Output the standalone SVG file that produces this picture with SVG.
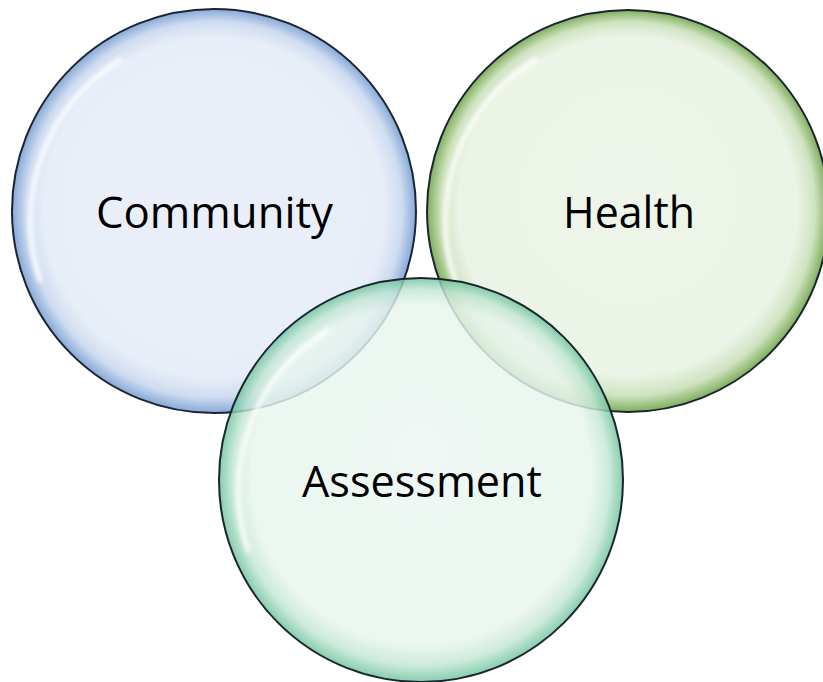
<svg xmlns="http://www.w3.org/2000/svg" width="823" height="682" viewBox="0 0 823 682">
<defs>
<radialGradient id="gBlue" cx="0.5" cy="0.5" r="0.5" fx="0.5" fy="0.45">
<stop offset="0" stop-color="#eaeff9"/>
<stop offset="0.84" stop-color="#e8eef8"/>
<stop offset="0.93" stop-color="#cfdcf0"/>
<stop offset="1" stop-color="#86a9d8"/>
</radialGradient>
<radialGradient id="gGreen" cx="0.5" cy="0.5" r="0.5" fx="0.5" fy="0.42">
<stop offset="0" stop-color="#eef5ea"/>
<stop offset="0.84" stop-color="#ecf4e7"/>
<stop offset="0.93" stop-color="#cfe3c0"/>
<stop offset="1" stop-color="#7fae5c"/>
</radialGradient>
<radialGradient id="gTeal" cx="0.5" cy="0.5" r="0.5" fx="0.5" fy="0.42">
<stop offset="0" stop-color="#ebf6f1"/>
<stop offset="0.84" stop-color="#e8f5ee"/>
<stop offset="0.93" stop-color="#c2e6d4"/>
<stop offset="1" stop-color="#6cc39c"/>
</radialGradient>
<filter id="blur" x="-20%" y="-20%" width="140%" height="140%">
<feGaussianBlur stdDeviation="2"/>
</filter>
</defs>
<style>
.ring{stroke:#1b2530;stroke-width:2}
.glint{fill:none;stroke:#ffffff;stroke-width:5;stroke-linecap:round;opacity:0.85;filter:url(#blur)}
.lbl{font-family:"Open Sans","Liberation Sans",sans-serif;font-size:44px;fill:#000;text-anchor:middle}
</style>
<g id="community">
<circle class="ring" cx="214" cy="211" r="202" fill="url(#gBlue)"/>
<path class="glint" d="M 40 280 A 188 188 0 0 1 120 60"/>
<text class="lbl" x="214.5" y="228" textLength="237" lengthAdjust="spacingAndGlyphs">Community</text>
</g>
<g id="health">
<circle class="ring" cx="628" cy="211" r="201" fill="url(#gGreen)"/>
<path class="glint" d="M 455 280 A 188 188 0 0 1 535 60" opacity="0.6"/>
<text class="lbl" x="629" y="228" textLength="132" lengthAdjust="spacingAndGlyphs">Health</text>
</g>
<g id="assessment">
<circle class="ring" cx="421" cy="480" r="202" fill="url(#gTeal)" fill-opacity="0.82"/>
<path class="glint" d="M 248 550 A 188 188 0 0 1 328 330" opacity="0.7"/>
<text class="lbl" x="422" y="497" textLength="240" lengthAdjust="spacingAndGlyphs">Assessment</text>
</g>
<g id="connectors"/>
</svg>
